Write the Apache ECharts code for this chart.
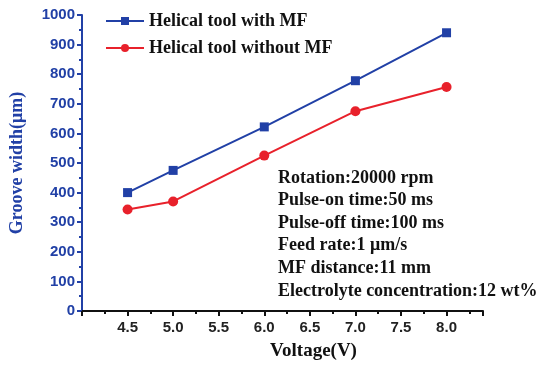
<!DOCTYPE html>
<html>
<head>
<meta charset="utf-8">
<script src="https://cdn.jsdelivr.net/npm/echarts@6/dist/echarts.min.js"></script>
<style>
html, body { margin: 0; padding: 0; background: #fff; }
#chart { width: 542px; height: 366px; }
</style>
</head>
<body>
<div id="chart"></div>
<script>
// 数据
const voltage = [4.5, 5.0, 6.0, 7.0, 8.0];
const withMF = [400, 475, 622, 778, 940];
const withoutMF = [343, 370, 525, 675, 757];
const seriesNames = ['Helical tool with MF', 'Helical tool without MF'];
const notes = [
    'Rotation:20000 rpm',
    'Pulse-on time:50 ms',
    'Pulse-off time:100 ms',
    'Feed rate:1 \u03bcm/s',
    'MF distance:11 mm',
    'Electrolyte concentration:12 wt%'
];

const blue = '#2140a6';
const red = '#e8212b';
const serif = '"Liberation Serif", "DejaVu Serif", serif';
const sans = '"Liberation Sans", Arial, sans-serif';

const toPairs = (xs, ys) => xs.map((x, i) => [x, ys[i]]);

const chart = echarts.init(document.getElementById('chart'));

chart.setOption({
    animation: false,
    grid: { left: 79, top: 15, right: 59, bottom: 53 },
    legend: {
        orient: 'vertical',
        left: 100,
        top: 7,
        itemWidth: 38,
        itemHeight: 10,
        itemGap: 9,
        textStyle: { fontFamily: serif, fontWeight: 'bold', fontSize: 18, color: '#111' },
        data: seriesNames
    },
    xAxis: {
        type: 'value',
        min: 4.0,
        max: 8.4,
        interval: 0.5,
        name: 'Voltage(V)',
        nameLocation: 'middle',
        nameGap: 31,
        nameTextStyle: { fontFamily: serif, fontWeight: 'bold', fontSize: 19, color: '#111', padding: [0, 0, 0, 62] },
        axisLine: { onZero: false, lineStyle: { color: '#111', width: 2 } },
        axisTick: { show: true, inside: false, length: 5, lineStyle: { color: '#111', width: 2 } },
        minorTick: { show: true, splitNumber: 2, length: 3, lineStyle: { color: '#111', width: 2 } },
        splitLine: { show: false },
        axisLabel: {
            fontFamily: sans, fontWeight: 'bold', fontSize: 15, color: '#222', margin: 9,
            formatter: v => (v < 4.4 || v > 8.05) ? '' : v.toFixed(1)
        }
    },
    yAxis: {
        type: 'value',
        min: 0,
        max: 1000,
        interval: 100,
        name: 'Groove width(\u03bcm)',
        nameLocation: 'middle',
        nameGap: 56,
        nameTextStyle: { fontFamily: serif, fontWeight: 'bold', fontSize: 18, color: blue },
        axisLine: { show: true, lineStyle: { color: blue, width: 2 } },
        axisTick: { show: true, inside: false, length: 5, lineStyle: { color: blue, width: 2 } },
        minorTick: { show: true, splitNumber: 2, length: 3, lineStyle: { color: blue, width: 2 } },
        splitLine: { show: false },
        axisLabel: {
            fontFamily: sans, fontWeight: 'bold', fontSize: 15, color: blue, margin: 7,
            formatter: v => String(v)
        }
    },
    series: [
        {
            name: seriesNames[0],
            type: 'line',
            data: toPairs(voltage, withMF),
            symbol: 'rect',
            symbolSize: 9,
            itemStyle: { color: blue },
            lineStyle: { color: blue, width: 2 }
        },
        {
            name: seriesNames[1],
            type: 'line',
            data: toPairs(voltage, withoutMF),
            symbol: 'circle',
            symbolSize: 10,
            itemStyle: { color: red },
            lineStyle: { color: red, width: 2 }
        }
    ],
    graphic: notes.map((t, i) => ({
        type: 'text',
        left: 278,
        top: 169 + i * 22.6,
        style: { text: t, fontFamily: serif, fontWeight: 'bold', fontSize: 18, fill: '#111' }
    }))
});
</script>
</body>
</html>
